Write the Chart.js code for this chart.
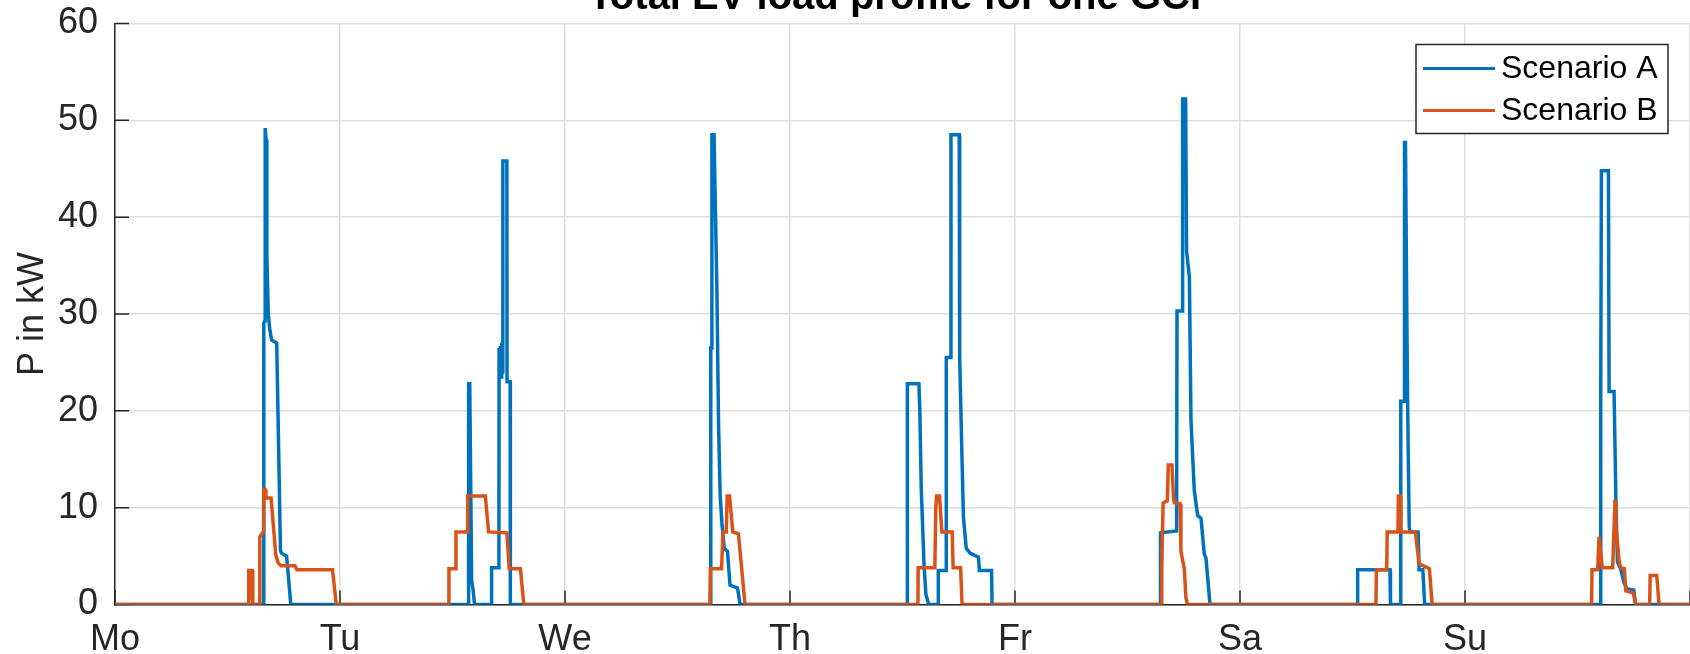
<!DOCTYPE html>
<html>
<head>
<meta charset="utf-8">
<title>Total EV load profile for one GCP</title>
<script src="https://cdn.jsdelivr.net/npm/chart.js@4.4.1/dist/chart.umd.min.js"></script>
<style>
  html, body { margin: 0; padding: 0; background: #fff; overflow: hidden; }
  #wrap { position: absolute; left: 0; top: -30px; width: 1704px; height: 684px; }
</style>
</head>
<body>
<div id="wrap"><canvas id="chart1" width="1704" height="684"></canvas></div>
<script>
// week axis, hours from Monday 00:00
var dayLabels = ['Mo', 'Tu', 'We', 'Th', 'Fr', 'Sa', 'Su'];

// Scenario A (kW)
var hoursA = [0, 15.85, 15.87, 16.0, 16.02, 16.12, 16.2, 16.35, 16.5, 16.7, 17.25, 17.65, 17.75, 18.3, 18.4, 18.75,
  37.7, 37.72, 37.84, 38.04, 38.2, 38.35,
  40.15, 40.17, 40.95, 40.97, 41.05, 41.1, 41.2, 41.25, 41.35, 41.37, 41.8, 41.82, 42.15, 42.17,
  63.5, 63.55, 63.65, 63.67, 63.9, 64.0, 64.2, 64.38, 64.55, 64.73, 64.98, 65.33, 65.6, 66.4, 66.68,
  84.5, 84.52, 85.75, 85.85, 86.0, 86.3, 86.5, 86.8,
  87.8, 87.82, 88.65, 88.67, 89.15, 89.17, 90.05, 90.1, 90.3, 90.5, 90.8, 91.2, 92.1, 92.2, 93.5, 93.55,
  111.5, 111.52, 113.24, 113.28, 113.85, 113.88, 114.2, 114.3, 114.6, 114.77, 115.12, 115.48, 115.84, 116.19, 116.37, 116.8,
  132.5, 132.55, 136.0, 136.05, 137.1, 137.15, 137.5, 137.55, 137.65, 137.8, 137.9, 138.05, 138.15, 139.0, 139.1, 139.5, 139.7,
  158.45, 158.48, 158.55, 159.3, 159.37, 159.9, 160.1, 160.26, 160.6, 160.97, 161.3, 162.0, 162.2, 168];
var loadA = [0, 0, 29, 29.3, 49.2, 48, 36, 30, 28.5, 27.3, 27, 5.6, 5.3, 5.0, 4, 0,
  0, 22.8, 22.8, 2.5, 1.5, 0,
  0, 3.8, 3.8, 26.5, 23.5, 26.7, 23.5, 27, 24, 45.8, 45.8, 23, 23, 0,
  0, 26.5, 26.5, 48.5, 48.5, 43, 32.7, 18.5, 11.3, 8.5, 5.8, 5.5, 2, 1.7, 0,
  0, 22.8, 22.8, 20, 12, 4, 1, 0,
  0, 3.5, 3.5, 25.5, 25.5, 48.5, 48.5, 25.5, 17, 9, 5.8, 5.3, 4.9, 3.5, 3.5, 0,
  0, 7.4, 7.6, 30.3, 30.3, 52.2, 52.2, 36.5, 33.8, 19.1, 11.8, 9.2, 8.9, 5.2, 4.8, 0,
  0, 3.6, 3.6, 0, 0, 21, 21, 47.7, 47.7, 29, 19, 8, 7.5, 7.5, 3.6, 3.6, 0,
  0, 21.8, 44.8, 44.8, 22, 22, 10.6, 4.4, 3.7, 2.2, 1.6, 1.5, 0, 0];

// Scenario B (kW)
var hoursB = [0, 14.25, 14.27, 14.4, 14.45, 14.5, 14.65, 14.7, 15.4, 15.45, 15.8, 15.85, 16.0, 16.1, 16.65, 17.15, 17.4, 17.7, 19.2, 19.4, 23.2, 23.6,
  35.6, 35.62, 36.35, 36.37, 37.58, 37.62, 39.5, 39.85, 41.8, 42.05, 43.25, 43.6,
  63.45, 63.5, 64.7, 64.85, 65.2, 65.3, 65.55, 65.9, 66.5, 67.2,
  85.65, 85.67, 87.45, 87.55, 87.65, 87.95, 88.2, 89.3, 89.4, 90.2, 90.35,
  111.6, 111.65, 111.8, 112.25, 112.35, 112.75, 112.9, 113.0, 113.6, 113.7, 114.06, 114.23, 114.4,
  134.5, 134.55, 135.65, 135.7, 136.85, 136.9, 137.1, 137.15, 138.7, 139.1, 140.2, 140.5,
  157.5, 157.55, 158.15, 158.3, 158.4, 158.65, 159.75, 159.9, 160.0, 160.1, 160.3, 160.45, 160.6, 161.0, 161.15, 161.95, 162.2,
  163.7, 163.75, 164.45, 164.7, 168];
var loadB = [0, 0, 3.5, 3.5, 0.5, 3.5, 3.5, 0, 0, 7, 7.5, 11.9, 11.9, 11, 11, 5.1, 4.3, 4.0, 4.0, 3.6, 3.6, 0,
  0, 3.7, 3.7, 7.5, 7.5, 11.2, 11.2, 7.5, 7.4, 3.7, 3.7, 0,
  0, 3.7, 3.7, 7.5, 7.5, 11.2, 11.2, 7.5, 7.3, 0,
  0, 3.8, 3.8, 10, 11.2, 11.2, 7.5, 7.5, 3.8, 3.8, 0,
  0, 3.5, 10.5, 10.7, 14.4, 14.4, 11, 10.5, 10.4, 5.5, 3.7, 0.7, 0,
  0, 3.6, 3.6, 7.5, 7.5, 11.2, 11.2, 7.5, 7.5, 4.2, 3.7, 0,
  0, 3.6, 3.6, 7, 6, 3.8, 3.8, 8, 10.8, 8, 6, 4.4, 3.8, 3.7, 1.4, 1.2, 0,
  0, 3.0, 3.0, 0, 0];

var FONT = "'Liberation Sans', Arial, Helvetica, sans-serif";
var INK = '#262626';

function toPoints(xs, ys) {
    var pts = [];
    for (var i = 0; i < xs.length; i++) pts.push({x: xs[i], y: ys[i]});
    return pts;
}

// matlab style ticks pointing into the plot
var axisTicks = {
    id: 'axisTicks',
    beforeDatasetsDraw: function (chart) {
        var c = chart.ctx, a = chart.chartArea;
        var xs = chart.scales.x, ys = chart.scales.y;
        c.save();
        c.strokeStyle = INK;
        c.lineWidth = 1.5;
        c.beginPath();
        xs.ticks.forEach(function (t) {
            var px = xs.getPixelForValue(t.value);
            c.moveTo(px, a.bottom);
            c.lineTo(px, a.bottom - 14);
        });
        ys.ticks.forEach(function (t) {
            var py = ys.getPixelForValue(t.value);
            c.moveTo(a.left, py);
            c.lineTo(a.left + 14, py);
        });
        c.stroke();
        c.restore();
    }
};

// boxed legend in the top right corner
var boxLegend = {
    id: 'boxLegend',
    afterDraw: function (chart) {
        var c = chart.ctx, a = chart.chartArea;
        var left = a.right - 274, top = a.top + 21, w = 252, h = 89;
        c.save();
        c.fillStyle = '#fff';
        c.fillRect(left, top, w, h);
        c.strokeStyle = INK;
        c.lineWidth = 1.5;
        c.strokeRect(left, top, w, h);
        c.font = '32px ' + FONT;
        c.textBaseline = 'middle';
        c.textAlign = 'left';
        chart.data.datasets.forEach(function (ds, i) {
            var y = top + 24 + i * 42;
            c.strokeStyle = ds.borderColor;
            c.lineWidth = 3;
            c.beginPath();
            c.moveTo(left + 7, y);
            c.lineTo(left + 79, y);
            c.stroke();
            c.fillStyle = '#000';
            c.fillText(ds.label, left + 85, y + 1);
        });
        c.restore();
    }
};

var ctx1 = document.getElementById('chart1').getContext('2d');
var chart1 = new Chart(ctx1, {
    type: 'line',
    data: {
        datasets: [
            {label: 'Scenario A', data: toPoints(hoursA, loadA), borderColor: '#0072BD', borderWidth: 3.5,
             pointRadius: 0, tension: 0, fill: false, order: 1},
            {label: 'Scenario B', data: toPoints(hoursB, loadB), borderColor: '#D95319', borderWidth: 3.5,
             pointRadius: 0, tension: 0, fill: false, order: 0}
        ]
    },
    options: {
        responsive: false,
        animation: false,
        events: [],
        layout: {padding: 0, autoPadding: false},
        plugins: {
            legend: {display: false},
            tooltip: {enabled: false},
            title: {
                display: true,
                text: 'Total EV load profile for one GCP',
                fullSize: false,
                color: '#000',
                font: {family: FONT, size: 40, weight: 'bold'},
                padding: {top: 4, bottom: 1.5}
            }
        },
        scales: {
            x: {
                type: 'linear',
                min: 0,
                max: 168,
                ticks: {
                    stepSize: 24,
                    autoSkip: false,
                    maxRotation: 0,
                    padding: 14,
                    color: INK,
                    font: {family: FONT, size: 36},
                    callback: function (v) { return dayLabels[v / 24] || ''; }
                },
                grid: {color: '#dedede', lineWidth: 1.5, drawTicks: false},
                border: {display: true, color: INK, width: 1.5},
                afterFit: function (s) { s.height = 49.5; }
            },
            y: {
                min: 0,
                max: 60,
                ticks: {stepSize: 10, padding: 17, color: INK, font: {family: FONT, size: 36}},
                grid: {color: '#dedede', lineWidth: 1.5, drawTicks: false},
                border: {display: true, color: INK, width: 1.5},
                title: {display: true, text: 'P in kW', color: INK, font: {family: FONT, size: 36}, padding: {top: 11, bottom: 0}},
                afterFit: function (s) { s.width = 115; }
            }
        }
    },
    plugins: [axisTicks, boxLegend]
});
</script>
</body>
</html>
